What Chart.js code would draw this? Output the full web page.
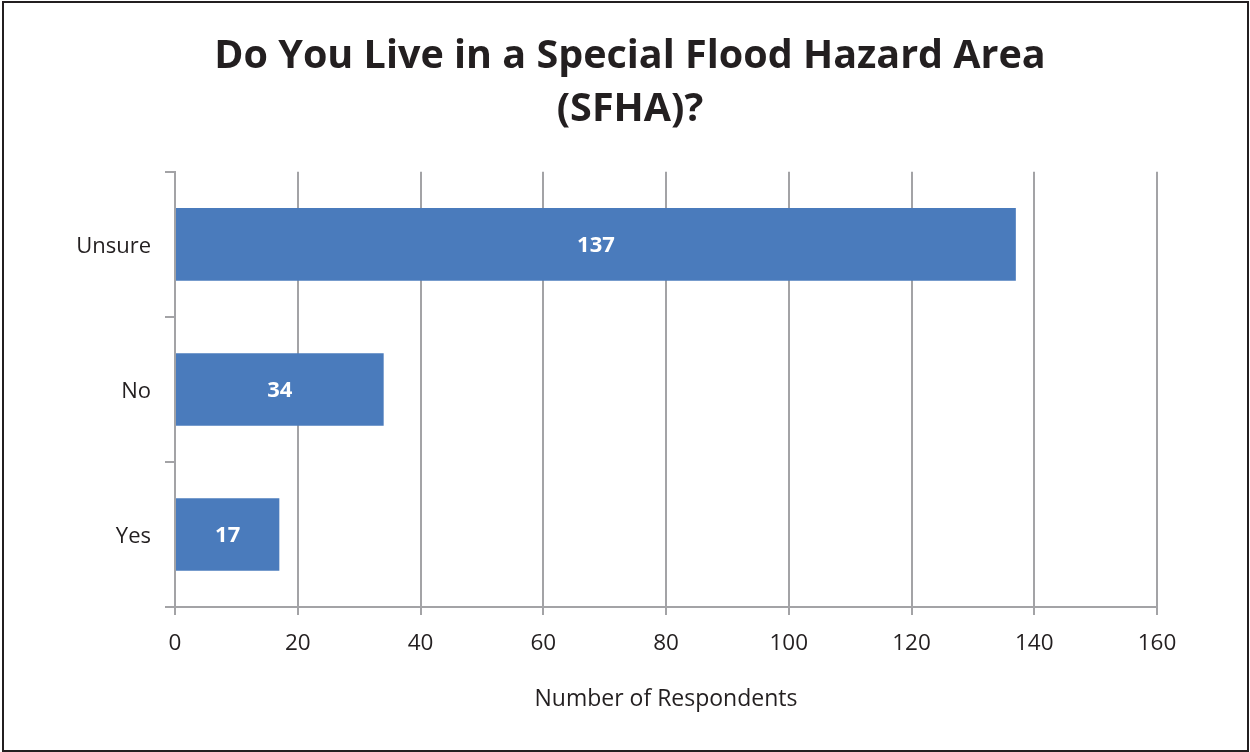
<!DOCTYPE html>
<html>
<head>
<meta charset="utf-8">
<script src="https://cdn.jsdelivr.net/npm/chart.js@4"></script>
<style>
  body { margin: 0; background: #fff; }
  #wrap { position: relative; width: 1250px; height: 752px; }
  #frame {
    position: absolute; left: 2px; top: 1px; width: 1247px; height: 751px;
    box-sizing: border-box; border: 2px solid #231f20; pointer-events: none;
  }
  canvas { position: absolute; left: 0; top: 0; }
</style>
</head>
<body>
<div id="wrap">
  <canvas id="chart" width="1250" height="752"></canvas>
  <div id="frame"></div>
</div>
<script>
// ===== DATA =====
const categories = ["Unsure", "No", "Yes"];
const respondents = [137, 34, 17];
const xTicks = [0, 20, 40, 60, 80, 100, 120, 140, 160];

const FONT = "'Open Sans', 'DejaVu Sans', sans-serif";
const TEXT = "#231f20";
const GRID = "#a3a3a6";

// white value labels in the middle of each bar
const barLabels = {
  id: "barLabels",
  afterDatasetsDraw(chart) {
    const ctx = chart.ctx;
    const meta = chart.getDatasetMeta(0);
    ctx.save();
    ctx.fillStyle = "#ffffff";
    ctx.font = "bold 22px " + FONT;
    ctx.textAlign = "center";
    ctx.textBaseline = "middle";
    meta.data.forEach((bar, i) => {
      ctx.fillText(String(respondents[i]), (bar.x + bar.base) / 2, bar.y + 1);
    });
    ctx.restore();
  }
};

new Chart(document.getElementById("chart"), {
  type: "bar",
  data: {
    labels: categories,
    datasets: [{
      data: respondents,
      backgroundColor: "#4a7bbc",
      borderWidth: 0,
      barPercentage: 0.5,
      categoryPercentage: 1
    }]
  },
  plugins: [barLabels],
  options: {
    indexAxis: "y",
    responsive: false,
    animation: false,
    layout: { padding: { left: 10, right: 0, top: 0, bottom: 0 } },
    plugins: {
      legend: { display: false },
      tooltip: { enabled: false },
      title: {
        display: true,
        text: ["Do You Live in a Special Flood Hazard Area", "(SFHA)?"],
        color: TEXT,
        font: { family: FONT, size: 39.5, weight: "bold", lineHeight: 1.34 },
        padding: { top: 30, bottom: 36 }
      }
    },
    scales: {
      x: {
        min: 0,
        max: 160,
        afterBuildTicks(scale) {
          scale.ticks = xTicks.map(v => ({ value: v }));
        },
        afterFit(scale) { scale.height = 145; },
        grid: { color: GRID, lineWidth: 2, tickLength: 8, drawTicks: true },
        border: { color: GRID, width: 2 },
        ticks: { color: TEXT, font: { family: FONT, size: 22.5 }, padding: 15 },
        title: {
          display: true,
          text: "Number of Respondents",
          color: TEXT,
          font: { family: FONT, size: 23 },
          padding: { top: 0, bottom: 39 }
        }
      },
      y: {
        afterFit(scale) { scale.width = 165; },
        grid: { color: GRID, lineWidth: 2, drawOnChartArea: false, tickLength: 10, offset: true },
        border: { color: GRID, width: 2 },
        ticks: { color: TEXT, font: { family: FONT, size: 22 }, padding: 14, labelOffset: 2 }
      },
      // empty right-hand axis: only reserves the margin right of the plot
      yRight: {
        type: "linear",
        axis: "y",
        position: "right",
        afterFit(scale) { scale.width = 93; },
        grid: { display: false },
        border: { display: false },
        ticks: { display: false }
      }
    }
  }
});
</script>
</body>
</html>
